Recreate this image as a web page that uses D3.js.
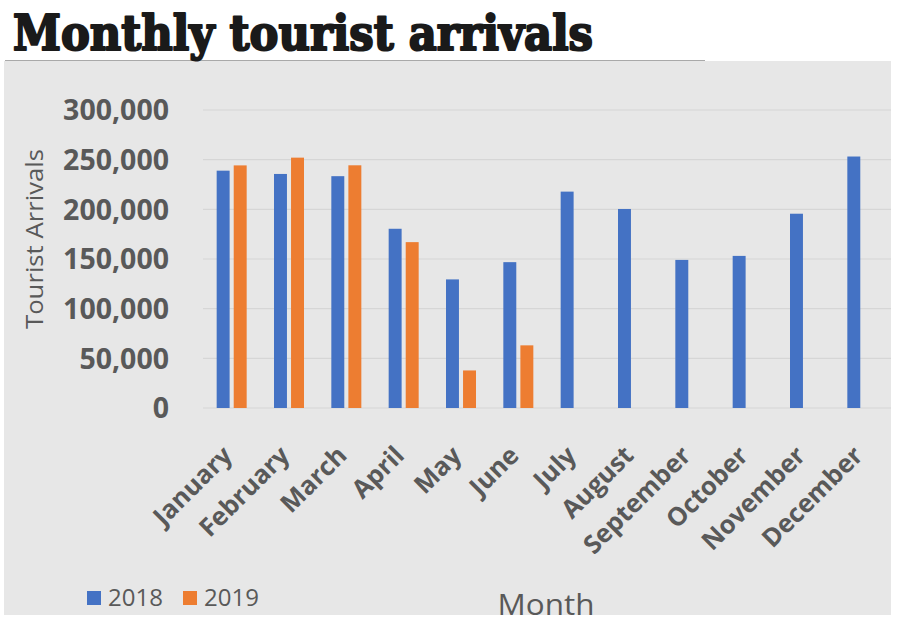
<!DOCTYPE html>
<html><head><meta charset="utf-8">
<script src="https://cdn.jsdelivr.net/npm/d3@7"></script>
<style>html,body{margin:0;padding:0;background:#fff;}svg{display:block;}</style>
</head><body>
<svg id="c" width="900" height="633"></svg>
<script>
const months = ["January","February","March","April","May","June","July","August","September","October","November","December"];
const years = ["2018","2019"];
const arrivals2018 = [238924,235618,233382,180429,129466,146828,217829,200359,149087,153123,195582,253169];
const arrivals2019 = [244239,252033,244328,166975,37802,63072,null,null,null,null,null,null];
const yTicks = [0,50000,100000,150000,200000,250000,300000];
const colors = {"2018":"#4472C4","2019":"#ED7D31"};
const textColor = "#595959";

const svg = d3.select("#c");
// panel background
svg.append("rect").attr("x",4).attr("y",61).attr("width",887).attr("height",554).attr("fill","#e7e7e7");
// title underline
svg.append("line").attr("x1",5).attr("x2",705).attr("y1",60.5).attr("y2",60.5).attr("stroke","#a9a9a9").attr("stroke-width",1);
// title
svg.append("text").attr("x",13).attr("y",50)
  .attr("font-family","'DejaVu Serif'").attr("font-weight","bold").attr("font-size",48)
  .attr("textLength",580).attr("lengthAdjust","spacingAndGlyphs")
  .attr("fill","#1a1a1a").attr("stroke","#1a1a1a").attr("stroke-width",2.2).attr("stroke-linejoin","round")
  .text("Monthly tourist arrivals");

const x0 = d3.scaleBand().domain(months).range([203,891]);
const bw = x0.bandwidth();
const x1 = d3.scaleBand().domain(years).range([bw/2-15, bw/2+15]).paddingInner(0.24);
const y = d3.scaleLinear().domain([0,300000]).range([408,110]);

// gridlines
svg.append("g").selectAll("line").data(yTicks).join("line")
  .attr("x1",203).attr("x2",891).attr("y1",d=>y(d)).attr("y2",d=>y(d))
  .attr("stroke","#d6d6d6").attr("stroke-width",1.2);

// y axis
const yAxis = d3.axisLeft(y).tickValues(yTicks).tickFormat(d3.format(",")).tickSize(0).tickPadding(0);
const gy = svg.append("g").attr("transform","translate(169,0)").call(yAxis);
gy.select(".domain").remove();
gy.selectAll("text").attr("font-family","'Open Sans'").attr("font-weight","bold").attr("font-size",28.5).attr("fill",textColor).attr("dy","0.35em");

// bars
const data = months.map((m,i)=>({m, vals:[{k:"2018",v:arrivals2018[i]},{k:"2019",v:arrivals2019[i]}]}));
const grp = svg.append("g").selectAll("g").data(data).join("g").attr("transform",d=>`translate(${x0(d.m)},0)`);
grp.selectAll("rect").data(d=>d.vals.filter(e=>e.v!=null)).join("rect")
  .attr("x",d=>x1(d.k)).attr("width",x1.bandwidth())
  .attr("y",d=>y(d.v)).attr("height",d=>y(0)-y(d.v)).attr("fill",d=>colors[d.k]);

// x axis labels
const xAxis = d3.axisBottom(x0).tickSize(0).tickPadding(0);
const gx = svg.append("g").attr("transform","translate(0,408)").call(xAxis);
gx.select(".domain").remove();
gx.selectAll("text").attr("font-family","'Open Sans'").attr("font-weight","bold").attr("font-size",25.5).attr("fill",textColor)
  .attr("text-anchor","end").attr("dy",null).attr("y",null)
  .attr("transform","translate(2,49) rotate(-45)");

// y title
svg.append("text").attr("transform","translate(43,239) rotate(-90)").attr("text-anchor","middle")
  .attr("font-family","'Open Sans'").attr("font-size",23).attr("textLength",180).attr("lengthAdjust","spacingAndGlyphs")
  .attr("fill",textColor).text("Tourist Arrivals");

// x title clipped by panel
svg.append("clipPath").attr("id","pc").append("rect").attr("x",4).attr("y",61).attr("width",887).attr("height",554);
svg.append("text").attr("x",546).attr("y",615).attr("text-anchor","middle").attr("clip-path","url(#pc)")
  .attr("font-family","'Open Sans'").attr("font-size",30).attr("textLength",97).attr("lengthAdjust","spacingAndGlyphs")
  .attr("fill",textColor).text("Month");

// legend
const leg = svg.append("g").selectAll("g").data(years).join("g")
  .attr("transform",(d,i)=>`translate(${87+i*96},591)`);
leg.append("rect").attr("width",14).attr("height",14).attr("fill",d=>colors[d]);
leg.append("text").attr("x",21).attr("y",15).attr("font-family","'Open Sans'").attr("font-size",24).attr("fill",textColor).text(d=>d);
</script>
</body></html>
